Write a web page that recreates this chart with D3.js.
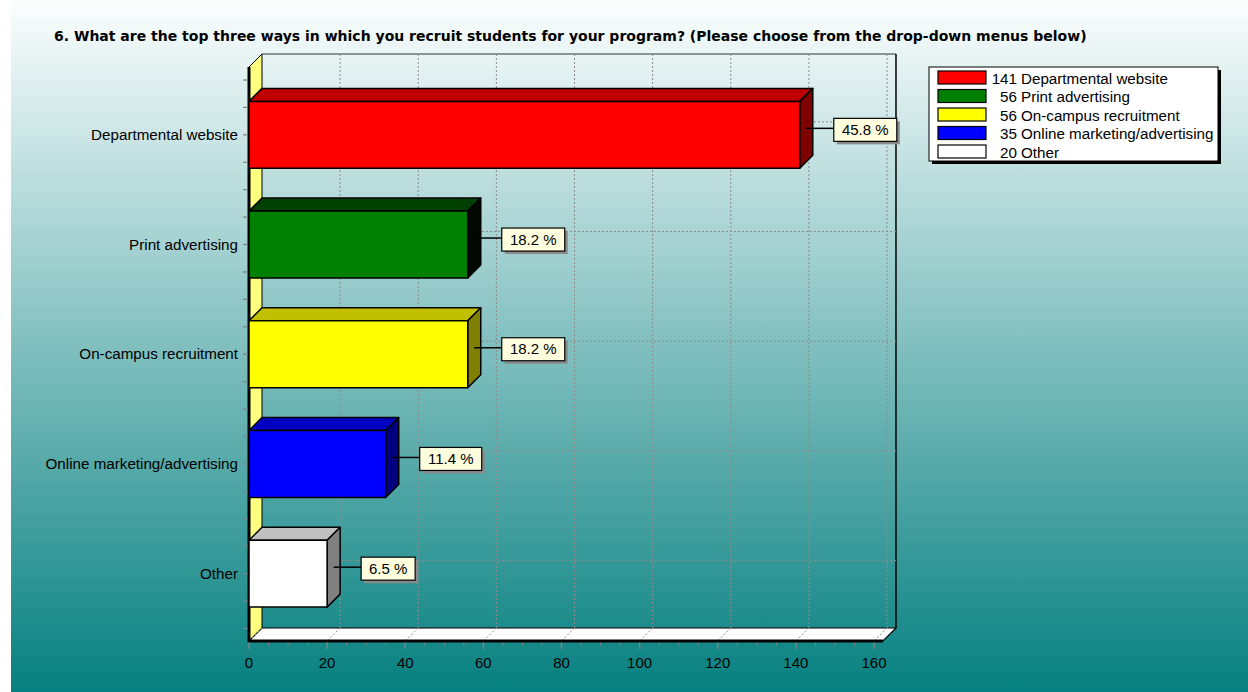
<!DOCTYPE html>
<html>
<head>
<meta charset="utf-8">
<script src="https://cdn.jsdelivr.net/npm/d3@7"></script>
<style>
  html, body { margin: 0; padding: 0; background: #ffffff; }
  svg { display: block; }
</style>
</head>
<body>
<svg id="chart" width="1248" height="692"></svg>
<script>
// Survey responses: recruitment channels
const titleText = "6. What are the top three ways in which you recruit students for your program? (Please choose from the drop-down menus below)";
const categories = ["Departmental website", "Print advertising", "On-campus recruitment", "Online marketing/advertising", "Other"];
const counts = [141, 56, 56, 35, 20];
const xTicks = [0, 20, 40, 60, 80, 100, 120, 140, 160];

// face colours per bar: front, top, side
const frontColors = ["#ff0000", "#008000", "#ffff00", "#0000ff", "#ffffff"];
const topColors   = ["#c00000", "#004000", "#c0c000", "#0000c0", "#c0c0c0"];
const sideColors  = ["#800000", "#000800", "#808000", "#000080", "#808080"];

const total = d3.sum(counts);
const rows = categories.map((c, i) => ({
  name: c, value: counts[i], pct: counts[i] / total * 100,
  front: frontColors[i], top: topColors[i], side: sideColors[i]
}));

const svg = d3.select("#chart");
const W = 1248, H = 692;
const DX = 13, DY = 13;          // depth offset of the 3D box
const SANS = "Liberation Sans, Arial, sans-serif";

// background
const defs = svg.append("defs");
const grad = defs.append("linearGradient").attr("id", "bg")
  .attr("x1", 0).attr("y1", 0).attr("x2", 0).attr("y2", 1);
grad.append("stop").attr("offset", 0).attr("stop-color", "#fcfefe");
grad.append("stop").attr("offset", 1).attr("stop-color", "#068080");
svg.append("rect").attr("x", 0).attr("y", 0).attr("width", W).attr("height", H).attr("fill", "#ffffff");
svg.append("rect").attr("x", 11).attr("y", 0).attr("width", W - 11).attr("height", H).attr("fill", "url(#bg)");

// scales
const x = d3.scaleLinear().domain([0, 160]).range([249, 874]);
const xMax = 162.3;
const plotTop = 67, plotBottom = 641;
const y = d3.scaleBand().domain(categories).range([80, 628.5]).paddingInner(0.39).paddingOuter(0.195);

const x0 = x(0), xEnd = x(xMax);

// title, sized to span its line
const title = svg.append("text")
  .attr("x", 54).attr("y", 41)
  .attr("font-family", "DejaVu Sans, Verdana, sans-serif")
  .attr("font-weight", "bold")
  .attr("font-size", 13)
  .attr("fill", "#000")
  .text(titleText);
const natural = title.node().getComputedTextLength();
title.attr("font-size", Math.min(14, 13 * 1038 / natural));

const poly = pts => pts.map(p => p.join(",")).join(" ");

// left wall (yellow)
svg.append("polygon")
  .attr("points", poly([[x0, plotTop], [x0 + DX, plotTop - DY], [x0 + DX, plotBottom - DY], [x0, plotBottom]]))
  .attr("fill", "#ffff80").attr("stroke", "#000").attr("stroke-width", 1);

// floor (white)
svg.append("polygon")
  .attr("points", poly([[x0, plotBottom], [x0 + DX, plotBottom - DY], [xEnd + DX, plotBottom - DY], [xEnd, plotBottom]]))
  .attr("fill", "#ffffff").attr("stroke", "#000").attr("stroke-width", 1.2);

// back wall frame: top and right edges
svg.append("line")
  .attr("x1", x0 + DX).attr("y1", plotTop - DY).attr("x2", xEnd + DX).attr("y2", plotTop - DY)
  .attr("stroke", "#303030").attr("stroke-width", 1.2);
svg.append("line")
  .attr("x1", xEnd + DX).attr("y1", plotTop - DY).attr("x2", xEnd + DX).attr("y2", plotBottom - DY)
  .attr("stroke", "#000").attr("stroke-width", 1.5);

// gridlines on the back wall and the floor
const grid = svg.append("g").attr("stroke", "#8c8c8c").attr("stroke-width", 1).attr("stroke-dasharray", "2,2").attr("fill", "none");
xTicks.forEach(v => {
  if (v > 0) {
    grid.append("line")
      .attr("x1", x(v) + DX).attr("y1", plotTop - DY).attr("x2", x(v) + DX).attr("y2", plotBottom - DY);
  }
  grid.append("line")
    .attr("x1", x(v) + DX).attr("y1", plotBottom - DY).attr("x2", x(v)).attr("y2", plotBottom);
});
categories.forEach(c => {
  const cy = y(c) + y.bandwidth() / 2 - DY;
  grid.append("line").attr("x1", x0 + DX).attr("y1", cy).attr("x2", xEnd + DX).attr("y2", cy);
});

// axis lines (front)
svg.append("line").attr("x1", x0).attr("y1", plotTop).attr("x2", x0).attr("y2", plotBottom + 1)
  .attr("stroke", "#000").attr("stroke-width", 3);
svg.append("line").attr("x1", x0 - 1).attr("y1", plotBottom).attr("x2", xEnd).attr("y2", plotBottom)
  .attr("stroke", "#000").attr("stroke-width", 3);

// x axis ticks and labels
const xMinor = d3.range(0, 161, 5);
const xAxisG = svg.append("g");
xMinor.forEach(v => {
  const major = v % 20 === 0;
  xAxisG.append("line")
    .attr("x1", x(v)).attr("x2", x(v))
    .attr("y1", plotBottom + 1.5).attr("y2", plotBottom + (major ? 8 : 4.5))
    .attr("stroke", "#808080").attr("stroke-width", major ? 1.5 : 1);
});
xAxisG.selectAll("text").data(xTicks).join("text")
  .attr("x", d => x(d)).attr("y", 668)
  .attr("text-anchor", "middle")
  .attr("font-family", SANS)
  .attr("font-size", 15)
  .attr("fill", "#000")
  .text(d => d);

// y axis ticks (quarter band) and category labels
const step = y.step();
const yAxisG = svg.append("g");
d3.range(0, 21).forEach(k => {
  const ty = 80 + k * step / 4;
  yAxisG.append("line").attr("x1", x0 - 6).attr("x2", x0 - 1.5).attr("y1", ty).attr("y2", ty)
    .attr("stroke", "#808080").attr("stroke-width", 1.2);
});
yAxisG.selectAll("text").data(categories).join("text")
  .attr("x", 238).attr("y", d => y(d) + y.bandwidth() / 2 + 5)
  .attr("text-anchor", "end")
  .attr("font-family", SANS)
  .attr("font-size", 15.2)
  .attr("fill", "#000")
  .text(d => d);

// 3D bars
const bars = svg.append("g");
rows.forEach(r => {
  const by = y(r.name), bh = y.bandwidth();
  const bx1 = x(r.value);
  const g = bars.append("g").attr("stroke", "#000").attr("stroke-width", 1.5).attr("stroke-linejoin", "round");
  g.append("polygon")
    .attr("points", poly([[x0, by], [x0 + DX, by - DY], [bx1 + DX, by - DY], [bx1, by]]))
    .attr("fill", r.top);
  g.append("polygon")
    .attr("points", poly([[bx1, by], [bx1 + DX, by - DY], [bx1 + DX, by + bh - DY], [bx1, by + bh]]))
    .attr("fill", r.side);
  g.append("rect")
    .attr("x", x0).attr("y", by).attr("width", bx1 - x0).attr("height", bh)
    .attr("fill", r.front);
});

// percentage call-outs
const labels = svg.append("g");
rows.forEach(r => {
  const bx1 = x(r.value);
  const ly = y(r.name) + y.bandwidth() / 2 - DY / 2;
  const boxX = bx1 + 34;
  const g = labels.append("g");
  g.append("line")
    .attr("x1", bx1 + DX / 2).attr("y1", ly).attr("x2", boxX).attr("y2", ly)
    .attr("stroke", "#000").attr("stroke-width", 1.5);
  const t = g.append("text")
    .attr("y", ly + 6.5)
    .attr("font-family", SANS)
    .attr("font-size", 15)
    .attr("fill", "#000")
    .text(r.pct.toFixed(1) + " %");
  const tw = t.node().getComputedTextLength();
  const bw = Math.round(tw + 16);
  g.insert("rect", "text")
    .attr("x", boxX + 3).attr("y", ly - 10 + 3).attr("width", bw).attr("height", 23)
    .attr("fill", "#8a8a8a");
  g.insert("rect", "text")
    .attr("x", boxX).attr("y", ly - 10).attr("width", bw).attr("height", 23)
    .attr("fill", "#ffffe0").attr("stroke", "#000").attr("stroke-width", 1.2);
  t.attr("x", boxX + bw / 2).attr("text-anchor", "middle");
});

// legend
const lg = svg.append("g");
const LX = 929, LY = 67, LW = 289, LH = 94;
lg.append("rect").attr("x", LX + 3).attr("y", LY + 3).attr("width", LW).attr("height", LH).attr("fill", "#000");
lg.append("rect").attr("x", LX).attr("y", LY).attr("width", LW).attr("height", LH)
  .attr("fill", "#fff").attr("stroke", "#000").attr("stroke-width", 1);
rows.forEach((r, i) => {
  const ry = 71 + i * 18.5;
  lg.append("rect").attr("x", 938).attr("y", ry).attr("width", 48).attr("height", 13)
    .attr("fill", r.front).attr("stroke", "#000").attr("stroke-width", 1.2);
  lg.append("text").attr("x", 1017).attr("y", ry + 12.5)
    .attr("text-anchor", "end")
    .attr("font-family", SANS).attr("font-size", 15.2)
    .attr("fill", "#000").text(r.value);
  lg.append("text").attr("x", 1021).attr("y", ry + 12.5)
    .attr("font-family", SANS).attr("font-size", 15.2)
    .attr("fill", "#000").text(r.name);
});
</script>
</body>
</html>
